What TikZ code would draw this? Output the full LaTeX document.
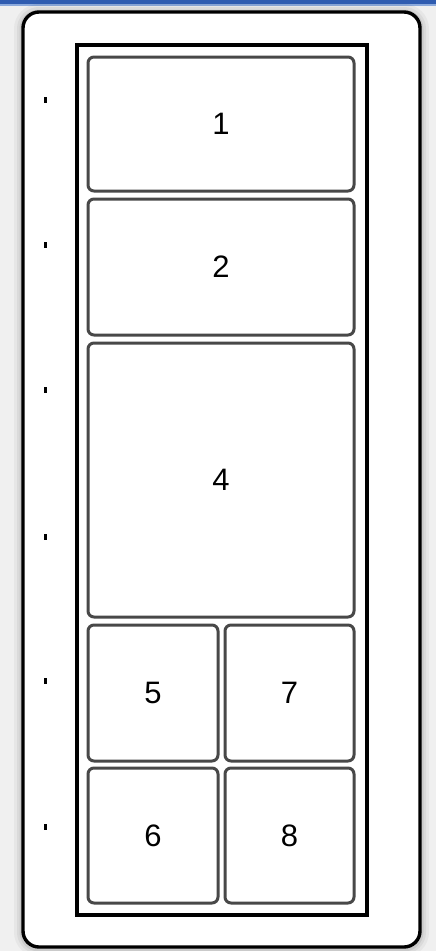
\documentclass[tikz,border=0pt]{standalone}
\usepackage{fontspec}
\setmainfont{Liberation Sans}
\usetikzlibrary{positioning}
\definecolor{barblue}{RGB}{47,92,176}
\definecolor{barlight}{RGB}{140,170,220}
\definecolor{btngray}{RGB}{72,72,72}
\definecolor{bgshade}{RGB}{240,240,240}
\tikzset{
  btn/.style={
    draw=btngray,
    line width=3pt,
    rounded corners=6pt,
    fill=white,
    inner sep=0pt,
    font=\fontsize{31}{36}\selectfont
  },
  pin/.style={
    fill=black,
    draw=none,
    minimum width=3pt,
    minimum height=6pt,
    inner sep=0pt
  }
}

\begin{document}
\begin{tikzpicture}[x=1pt, y=-1pt]
    \useasboundingbox (0,0) rectangle (436,951);
    % Hintergrund
    \fill[bgshade] (0,0) rectangle (436,951);
    \fill[barblue] (0,0) rectangle (436,4);
    \fill[barlight] (0,4) rectangle (436,6);
    % Schatten
    \foreach \w/\o in {18/0.04, 12/0.05, 7/0.07} {
        \draw[black, line width=\w pt, opacity=\o, rounded corners=16pt]
            (23,13) rectangle (420,948);
    }
    % Rahmen
    \draw[black, line width=3.4pt, fill=white, rounded corners=16pt]
        (23,12) rectangle (420,947);
    \draw[black, line width=3.4pt] (77,45) rectangle (367,915);

    % Tasten
    \node[btn, minimum width=266pt, minimum height=134pt] (k1) at (221,124) {1};
    \node[btn, minimum width=266pt, minimum height=136pt] (k2) at (221,267) {2};
    \node[btn, minimum width=266pt, minimum height=274pt] (k4) at (221,480) {4};
    \node[btn, minimum width=130pt, minimum height=136pt] (k5) at (153,693) {5};
    \node[btn, minimum width=129pt, minimum height=136pt] (k7) at (289.5,693) {7};
    \node[btn, minimum width=130pt, minimum height=135pt] (k6) at (153,835.5) {6};
    \node[btn, minimum width=129pt, minimum height=135pt] (k8) at (289.5,835.5) {8};

    % Markierungen
    \foreach \y [count=\i] in {100,245,390,537,681,827} {
        \node[pin] (p\i) at (45.5,\y) {};
    }
\end{tikzpicture}
\end{document}
